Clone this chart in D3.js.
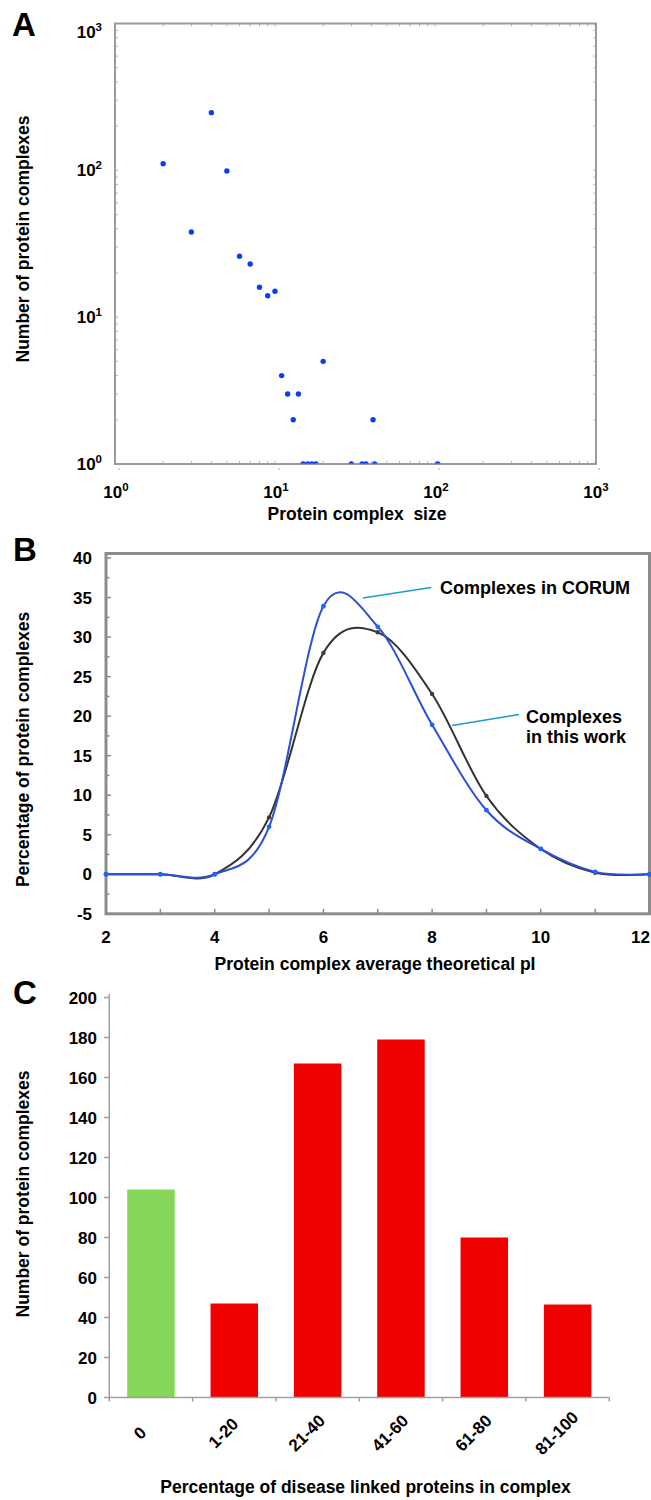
<!DOCTYPE html>
<html>
<head>
<meta charset="utf-8">
<script src="https://d3js.org/d3.v7.min.js"></script>
<style>
 body { margin: 0; background: #fff; }
 text { font-family: "Liberation Sans", Arial, sans-serif; font-weight: bold; fill: #000; }
</style>
</head>
<body>
<div id="figure"></div>
<script>

//***********************************************************
// Data
//***********************************************************

// panel A - complex size vs number of complexes (log / log)
var sizeA  = [2, 3, 4, 5, 6, 7, 8, 9, 10, 11, 12, 13, 14, 20, 41, 15, 16, 17, 18, 30, 35, 37, 42, 104];
var countA = [111, 38, 247, 99, 26, 23, 16, 14, 15, 4, 3, 2, 3, 5, 2, 1, 1, 1, 1, 1, 1, 1, 1, 1];
var ticksA = [1, 10, 100, 1000];
var expA   = ["0", "1", "2", "3"];

// panel B - average pI distribution
var pI       = [2, 3, 4, 5, 6, 7, 8, 9, 10, 11, 12];
var corum    = [0, 0, 0, 6.0, 33.9, 31.3, 18.9, 8.1, 3.2, 0.3, 0];
var thisWork = [0, 0, 0, 7.2, 28.0, 30.6, 22.8, 9.9, 3.2, 0.2, 0];
var ticksBy  = [-5, 0, 5, 10, 15, 20, 25, 30, 35, 40];
var ticksBx  = [2, 4, 6, 8, 10, 12];

// panel C - disease linked proteins
var diseaseCats   = ["0", "1-20", "21-40", "41-60", "61-80", "81-100"];
var diseaseCounts = [104, 47, 167, 179, 80, 46.5];
var ticksCy       = [0, 20, 40, 60, 80, 100, 120, 140, 160, 180, 200];

//***********************************************************
// Canvas
//***********************************************************
var svg = d3.select("#figure")
  .append("svg")
  .attr("width", 651)
  .attr("height", 1500);

function panelLetter(x, y, s) {
  svg.append("text").attr("x", x).attr("y", y)
    .style("font-size", "33px").text(s);
}

function yTitle(cy, s) {
  svg.append("text")
    .attr("transform", "translate(29," + cy + ") rotate(-90)")
    .attr("text-anchor", "middle")
    .style("font-size", "17.5px")
    .text(s);
}

//***********************************************************
// Panel A
//***********************************************************
var boxA = {left: 115, right: 596, top: 23.5, bottom: 464};
var xA = d3.scaleLog().domain([1, 1000]).range([115, 595]);
var yA = d3.scaleLog().domain([1, 1000]).range([464, 23.5]);

panelLetter(12, 36, "A");

// minor ticks on all sides
var minorA = [];
for (var e = 0; e < 3; e++) {
  for (var m = 1; m < 10; m++) minorA.push(m * Math.pow(10, e));
}
minorA.push(1000);

var gA = svg.append("g");
gA.selectAll(".mxA").data(minorA).enter().append("line")
  .attr("x1", function(d){ return xA(d); }).attr("x2", function(d){ return xA(d); })
  .attr("y1", boxA.top).attr("y2", boxA.top + 3)
  .attr("stroke", "#b5b5b5");
gA.selectAll(".mxbA").data(minorA).enter().append("line")
  .attr("x1", function(d){ return xA(d); }).attr("x2", function(d){ return xA(d); })
  .attr("y1", boxA.bottom).attr("y2", boxA.bottom - 3)
  .attr("stroke", "#b5b5b5");
gA.selectAll(".myA").data(minorA).enter().append("line")
  .attr("x1", boxA.left).attr("x2", boxA.left + 3)
  .attr("y1", function(d){ return yA(d); }).attr("y2", function(d){ return yA(d); })
  .attr("stroke", "#b5b5b5");
gA.selectAll(".myrA").data(minorA).enter().append("line")
  .attr("x1", boxA.right).attr("x2", boxA.right - 3)
  .attr("y1", function(d){ return yA(d); }).attr("y2", function(d){ return yA(d); })
  .attr("stroke", "#c5c5c5");
// decade marks under the x axis
gA.selectAll(".majA").data(ticksA).enter().append("line")
  .attr("x1", function(d){ return xA(d) + 4; }).attr("x2", function(d){ return xA(d) + 4; })
  .attr("y1", boxA.bottom + 4).attr("y2", boxA.bottom + 6)
  .attr("stroke", "#aaa");

// frame
gA.append("rect")
  .attr("x", boxA.left).attr("y", boxA.top)
  .attr("width", boxA.right - boxA.left).attr("height", boxA.bottom - boxA.top)
  .attr("fill", "none").attr("stroke", "#9a9a9a").attr("stroke-width", 2);

// clip so the points on the bottom line are cut in half
svg.append("clipPath").attr("id", "clipA")
  .append("rect")
  .attr("x", boxA.left).attr("y", boxA.top)
  .attr("width", boxA.right - boxA.left).attr("height", boxA.bottom - boxA.top - 0.5);

gA.append("g").attr("clip-path", "url(#clipA)")
  .selectAll("circle").data(sizeA).enter().append("circle")
  .attr("cx", function(d){ return xA(d); })
  .attr("cy", function(d, i){ return yA(countA[i]); })
  .attr("r", 2.7)
  .attr("fill", "#0a3ef2");

// tick labels 10^n
gA.selectAll(".ylabA").data(ticksA).enter().append("text")
  .attr("x", 102)
  .attr("y", function(d){ return Math.max(yA(d), 32) + 6; })
  .attr("text-anchor", "end")
  .style("font-size", "17px")
  .each(function(d, i){
    var t = d3.select(this);
    t.append("tspan").text("10");
    t.append("tspan").attr("dy", -7).style("font-size", "11.5px").text(expA[i]);
  });
gA.selectAll(".xlabA").data(ticksA).enter().append("text")
  .attr("x", function(d){ return xA(d) + 1; })
  .attr("y", 498)
  .attr("text-anchor", "middle")
  .style("font-size", "17px")
  .each(function(d, i){
    var t = d3.select(this);
    t.append("tspan").text("10");
    t.append("tspan").attr("dy", -7).style("font-size", "11.5px").text(expA[i]);
  });

svg.append("text")
  .attr("x", 357).attr("y", 520)
  .attr("text-anchor", "middle")
  .style("font-size", "17.5px")
  .style("white-space", "pre")
  .text("Protein complex  size");
yTitle(239, "Number of protein complexes");

//***********************************************************
// Panel B
//***********************************************************
var boxB = {left: 106, right: 649.5, top: 553.5, bottom: 913.8};
var xB = d3.scaleLinear().domain([2, 12]).range([106, 649.5]);
var yB = d3.scaleLinear().domain([-5, 40]).range([913.8, 558]);

panelLetter(13, 561, "B");

var gB = svg.append("g");

// inner ticks left (every 2.5) and bottom (every 1)
gB.selectAll(".tyB").data(d3.range(-5, 40.1, 2.5)).enter().append("line")
  .attr("x1", boxB.left).attr("x2", function(d){ return boxB.left + (d % 5 === 0 ? 5 : 3.5); })
  .attr("y1", function(d){ return yB(d); }).attr("y2", function(d){ return yB(d); })
  .attr("stroke", "#8c8c8c").attr("stroke-width", 1.5);
gB.selectAll(".txB").data(pI).enter().append("line")
  .attr("x1", function(d){ return xB(d); }).attr("x2", function(d){ return xB(d); })
  .attr("y1", boxB.bottom).attr("y2", boxB.bottom - 5)
  .attr("stroke", "#8c8c8c").attr("stroke-width", 1.5);

gB.append("rect")
  .attr("x", boxB.left).attr("y", boxB.top)
  .attr("width", boxB.right - boxB.left).attr("height", boxB.bottom - boxB.top)
  .attr("fill", "none").attr("stroke", "#8c8c8c").attr("stroke-width", 3);

// smoothed lines
var lineB = d3.line()
  .x(function(d){ return xB(d[0]); })
  .y(function(d){ return yB(d[1]); })
  .curve(d3.curveCardinal.tension(0));

var workPts  = pI.map(function(d, i){ return [d, thisWork[i]]; });
var corumPts = pI.map(function(d, i){ return [d, corum[i]]; });

gB.append("path").attr("d", lineB(workPts))
  .attr("fill", "none").attr("stroke", "#333").attr("stroke-width", 2);
gB.selectAll(".mw").data(workPts).enter().append("circle")
  .attr("cx", function(d){ return xB(d[0]); }).attr("cy", function(d){ return yB(d[1]); })
  .attr("r", 2.2).attr("fill", "#3c3c3c");

gB.append("path").attr("d", lineB(corumPts))
  .attr("fill", "none").attr("stroke", "#2f4fd4").attr("stroke-width", 2);
gB.selectAll(".mc").data(corumPts).enter().append("circle")
  .attr("cx", function(d){ return xB(d[0]); }).attr("cy", function(d){ return yB(d[1]); })
  .attr("r", 2.4).attr("fill", "#1a66ff");

// tick labels
gB.selectAll(".ylabB").data(ticksBy).enter().append("text")
  .attr("x", 92).attr("y", function(d){ return yB(d) + 6; })
  .attr("text-anchor", "end").style("font-size", "17px")
  .text(function(d){ return d; });
gB.selectAll(".xlabB").data(ticksBx).enter().append("text")
  .attr("x", function(d, i){ return i === ticksBx.length - 1 ? 650 : xB(d); })
  .attr("y", 943)
  .attr("text-anchor", function(d, i){ return i === ticksBx.length - 1 ? "end" : "middle"; })
  .style("font-size", "17px")
  .text(function(d){ return d; });

svg.append("text")
  .attr("x", 375).attr("y", 970)
  .attr("text-anchor", "middle").style("font-size", "17.5px")
  .text("Protein complex average theoretical pI");
yTitle(749.5, "Percentage of protein complexes");

// annotations
gB.append("line")
  .attr("x1", 363).attr("y1", 598).attr("x2", 431).attr("y2", 587.5)
  .attr("stroke", "#1b9ad2").attr("stroke-width", 1.4);
gB.append("text").attr("x", 440).attr("y", 594)
  .style("font-size", "18px").text("Complexes in CORUM");
gB.append("line")
  .attr("x1", 452).attr("y1", 725.5).attr("x2", 519).attr("y2", 714.5)
  .attr("stroke", "#1b9ad2").attr("stroke-width", 1.4);
gB.append("text").attr("x", 526).attr("y", 723)
  .style("font-size", "18px").text("Complexes");
gB.append("text").attr("x", 526).attr("y", 743)
  .style("font-size", "18px").text("in this work");

//***********************************************************
// Panel C
//***********************************************************
var xC = d3.scaleBand().domain(diseaseCats).range([109.3, 609.3])
  .paddingInner(0.43).paddingOuter(0.215);
var xCb = d3.scaleBand().domain(diseaseCats).range([109.3, 609.3]).padding(0);
var yC = d3.scaleLinear().domain([0, 200]).range([1397.5, 997.5]);

panelLetter(13, 1004, "C");

var gC = svg.append("g");

gC.selectAll("rect").data(diseaseCats).enter().append("rect")
  .attr("x", function(d){ return xC(d); })
  .attr("width", xC.bandwidth())
  .attr("y", function(d, i){ return yC(diseaseCounts[i]); })
  .attr("height", function(d, i){ return yC(0) - yC(diseaseCounts[i]); })
  .attr("fill", function(d, i){ return i === 0 ? "#86d65a" : "#f10000"; });

// axes
gC.append("line")
  .attr("x1", 109.3).attr("x2", 109.3).attr("y1", 994).attr("y2", yC(0))
  .attr("stroke", "#9f9f9f").attr("stroke-width", 1.5);
gC.append("line")
  .attr("x1", 109.3).attr("x2", 609.3).attr("y1", yC(0)).attr("y2", yC(0))
  .attr("stroke", "#9f9f9f").attr("stroke-width", 1.5);
gC.selectAll(".tyC").data(ticksCy).enter().append("line")
  .attr("x1", 104).attr("x2", 109.3)
  .attr("y1", function(d){ return yC(d); }).attr("y2", function(d){ return yC(d); })
  .attr("stroke", "#9f9f9f").attr("stroke-width", 1.5);
var boundsC = diseaseCats.map(function(d){ return xCb(d); }).concat([609.3]);
gC.selectAll(".txC").data(boundsC).enter().append("line")
  .attr("x1", function(d){ return d; }).attr("x2", function(d){ return d; })
  .attr("y1", yC(0)).attr("y2", yC(0) + 4)
  .attr("stroke", "#9f9f9f").attr("stroke-width", 1.5);

gC.selectAll(".ylabC").data(ticksCy).enter().append("text")
  .attr("x", 97).attr("y", function(d){ return yC(d) + 6; })
  .attr("text-anchor", "end").style("font-size", "17px")
  .text(function(d){ return d; });
gC.selectAll(".xlabC").data(diseaseCats).enter().append("text")
  .attr("transform", function(d){
    return "translate(" + (xC(d) + xC.bandwidth() / 2 - 11) + ",1433) rotate(-45)";
  })
  .attr("text-anchor", "middle")
  .attr("dy", "0.35em")
  .style("font-size", "17px")
  .text(function(d){ return d; });

svg.append("text")
  .attr("x", 365.5).attr("y", 1493)
  .attr("text-anchor", "middle").style("font-size", "17.5px")
  .text("Percentage of disease linked proteins in complex");
yTitle(1194, "Number of protein complexes");

</script>
</body>
</html>
